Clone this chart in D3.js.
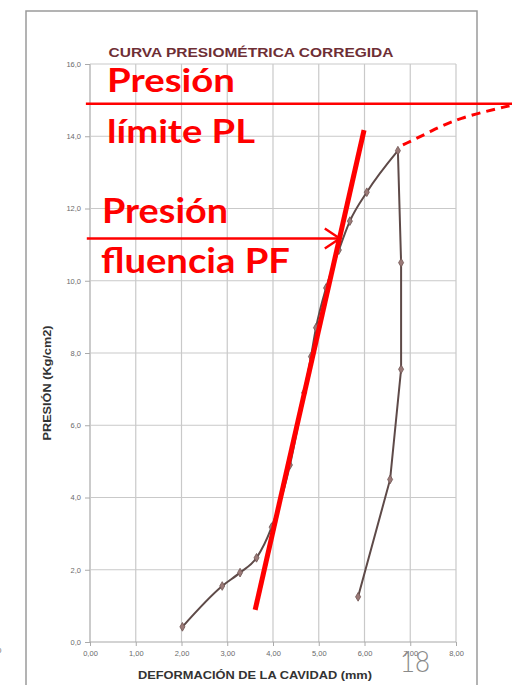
<!DOCTYPE html>
<html><head><meta charset="utf-8">
<script src="https://cdn.jsdelivr.net/npm/d3@7"></script>
<style>body{margin:0;background:#fff}svg{display:block}</style>
</head><body>
<svg id="c" width="512" height="685"></svg>
<script>
// ---- data ----
const loadX = [2.02, 2.89, 3.28, 3.64, 3.97, 4.37, 4.68, 4.83, 4.94, 5.16, 5.44, 5.68, 6.05, 6.73];
const loadY = [0.42, 1.55, 1.92, 2.33, 3.18, 4.90, 6.90, 7.90, 8.70, 9.80, 10.85, 11.65, 12.45, 13.60];
const unloadX = [6.73, 6.80, 6.80, 6.56, 5.86];
const unloadY = [13.60, 10.50, 7.55, 4.50, 1.25];
const xTicks = [0, 1, 2, 3, 4, 5, 6, 7, 8];
const yTicks = [0, 2, 4, 6, 8, 10, 12, 14, 16];
const PL = 14.9;          // presión límite
const PF = 11.17;         // presión de fluencia
const pfArrowEndX = 5.46;
const tangentX = [3.61, 5.99];
const tangentY = [0.89, 14.17];
const extrapX = [6.84, 7.43, 8.02, 9.22];
const extrapY = [13.76, 14.12, 14.50, 14.86];
const title = "CURVA PRESIOMÉTRICA CORREGIDA";
const xTitle = "DEFORMACIÓN DE LA CAVIDAD (mm)";
const yTitle = "PRESIÓN (Kg/cm2)";

// ---- drawing ----
const svg = d3.select("#c");
const x = d3.scaleLinear().domain([0, 8]).range([90, 456]);
const y = d3.scaleLinear().domain([0, 16]).range([642, 64]);
const fmtY = v => d3.format(".1f")(v).replace(".", ",");
const fmtX = v => d3.format(".2f")(v).replace(".", ",");

// outer frame
svg.append("rect").attr("x", 26).attr("y", 11).attr("width", 451).attr("height", 700)
  .attr("fill", "none").attr("stroke", "#9a9a9a").attr("stroke-width", 1.5);

// title
svg.append("text").attr("x", 251).attr("y", 57).attr("text-anchor", "middle")
  .attr("font-family", "Liberation Sans, Arial, sans-serif").attr("font-weight", "bold")
  .attr("font-size", 13).attr("fill", "#6e2e35")
  .attr("textLength", 285).attr("lengthAdjust", "spacingAndGlyphs").text(title);

// grid
const grid = svg.append("g");
grid.selectAll("line.v").data(xTicks).join("line")
  .attr("x1", d => x(d)).attr("x2", d => x(d)).attr("y1", y(16)).attr("y2", y(0))
  .attr("stroke", d => d === 0 ? "#a8a8a8" : "#c9c9c9").attr("stroke-width", 1.2);
grid.selectAll("line.h").data(yTicks).join("line")
  .attr("y1", d => y(d)).attr("y2", d => y(d)).attr("x1", x(0)).attr("x2", x(8))
  .attr("stroke", d => d === 0 ? "#a8a8a8" : "#c9c9c9").attr("stroke-width", 1.2);

// axes
const yAxis = d3.axisLeft(y).tickValues(yTicks).tickFormat(fmtY).tickSize(5).tickPadding(4);
const gy = svg.append("g").attr("transform", `translate(${x(0)},0)`).call(yAxis);
const xAxis = d3.axisBottom(x).tickValues(xTicks).tickFormat(fmtX).tickSize(4).tickPadding(5);
const gx = svg.append("g").attr("transform", `translate(0,${y(0)})`).call(xAxis);
[gx, gy].forEach(g => {
  g.select(".domain").remove();
  g.selectAll(".tick line").attr("stroke", "#aaa");
  g.selectAll(".tick text").attr("fill", "#6a6a6a").attr("font-size", 7.5)
    .attr("font-family", "Liberation Sans, Arial, sans-serif");
});

// axis titles
svg.append("text").attr("x", 255).attr("y", 679).attr("text-anchor", "middle")
  .attr("font-family", "Liberation Sans, Arial, sans-serif").attr("font-weight", "bold")
  .attr("font-size", 11).attr("fill", "#333")
  .attr("textLength", 234).attr("lengthAdjust", "spacingAndGlyphs").text(xTitle);
svg.append("text").attr("transform", "translate(51,383) rotate(-90)").attr("text-anchor", "middle")
  .attr("font-family", "Liberation Sans, Arial, sans-serif").attr("font-weight", "bold")
  .attr("font-size", 10.5).attr("fill", "#333")
  .attr("textLength", 115).attr("lengthAdjust", "spacingAndGlyphs").text(yTitle);

// data curves
const loadPts = loadX.map((v, i) => [v, loadY[i]]);
const unloadPts = unloadX.map((v, i) => [v, unloadY[i]]);
svg.append("path").datum(loadPts)
  .attr("d", d3.line().x(d => x(d[0])).y(d => y(d[1])).curve(d3.curveMonotoneX))
  .attr("fill", "none").attr("stroke", "#5e4a48").attr("stroke-width", 2);
svg.append("path").datum(unloadPts)
  .attr("d", d3.line().x(d => x(d[0])).y(d => y(d[1])))
  .attr("fill", "none").attr("stroke", "#5e4a48").attr("stroke-width", 2);
const allPts = loadPts.concat(unloadPts.slice(1));
svg.selectAll("path.mk").data(allPts).join("path")
  .attr("transform", d => `translate(${x(d[0])},${y(d[1])})`)
  .attr("d", d3.symbol(d3.symbolDiamond, 22))
  .attr("fill", "#9b7a78").attr("stroke", "#6e5452").attr("stroke-width", 0.8);

// red annotations
const red = "#ff0000";
svg.append("line").attr("x1", x(-0.09)).attr("x2", x(9.3)).attr("y1", y(PL)).attr("y2", y(PL))
  .attr("stroke", red).attr("stroke-width", 2.6);
svg.append("line").attr("x1", x(-0.07)).attr("x2", x(pfArrowEndX)).attr("y1", y(PF)).attr("y2", y(PF))
  .attr("stroke", red).attr("stroke-width", 2.6);
// arrowhead
const tipX = x(pfArrowEndX), tipY = y(PF);
svg.append("path").attr("d", `M${tipX - 15},${tipY - 10}L${tipX},${tipY}L${tipX - 15},${tipY + 10}`)
  .attr("fill", "none").attr("stroke", red).attr("stroke-width", 2.4);
// tangent line
svg.append("line").attr("x1", x(tangentX[0])).attr("y1", y(tangentY[0]))
  .attr("x2", x(tangentX[1])).attr("y2", y(tangentY[1]))
  .attr("stroke", red).attr("stroke-width", 5);
// extrapolated dashed curve
const extrap = extrapX.map((v, i) => [v, extrapY[i]]);
svg.append("path").datum(extrap).attr("d", d3.line().x(d => x(d[0])).y(d => y(d[1])).curve(d3.curveBasis))
  .attr("fill", "none").attr("stroke", red).attr("stroke-width", 3).attr("stroke-dasharray", "9,6");

// red labels
const lab = (t, px, py, w, fs) => svg.append("text").attr("x", px).attr("y", py)
  .attr("font-family", "Lato, 'Open Sans', sans-serif").attr("font-weight", "bold")
  .attr("font-size", fs).attr("fill", red)
  .attr("textLength", w).attr("lengthAdjust", "spacingAndGlyphs").text(t);
lab("Presión", 107, 92, 128, 32);
lab("límite PL", 107, 143, 148, 32);
lab("Presión", 102, 223, 126, 34);
lab("fluencia PF", 101, 273, 189, 34);

// page number & stray mark (as in the reference)
svg.append("text").attr("x", 400).attr("y", 672).attr("font-family", "Lato, sans-serif")
  .attr("font-weight", 300).attr("font-size", 30).attr("fill", "#8a8a8a")
  .attr("textLength", 30).attr("lengthAdjust", "spacingAndGlyphs").text("18");
svg.append("text").attr("x", -3).attr("y", 653).attr("font-family", "Liberation Sans, sans-serif")
  .attr("font-size", 8).attr("fill", "#777").text("0");
</script>
</body></html>
